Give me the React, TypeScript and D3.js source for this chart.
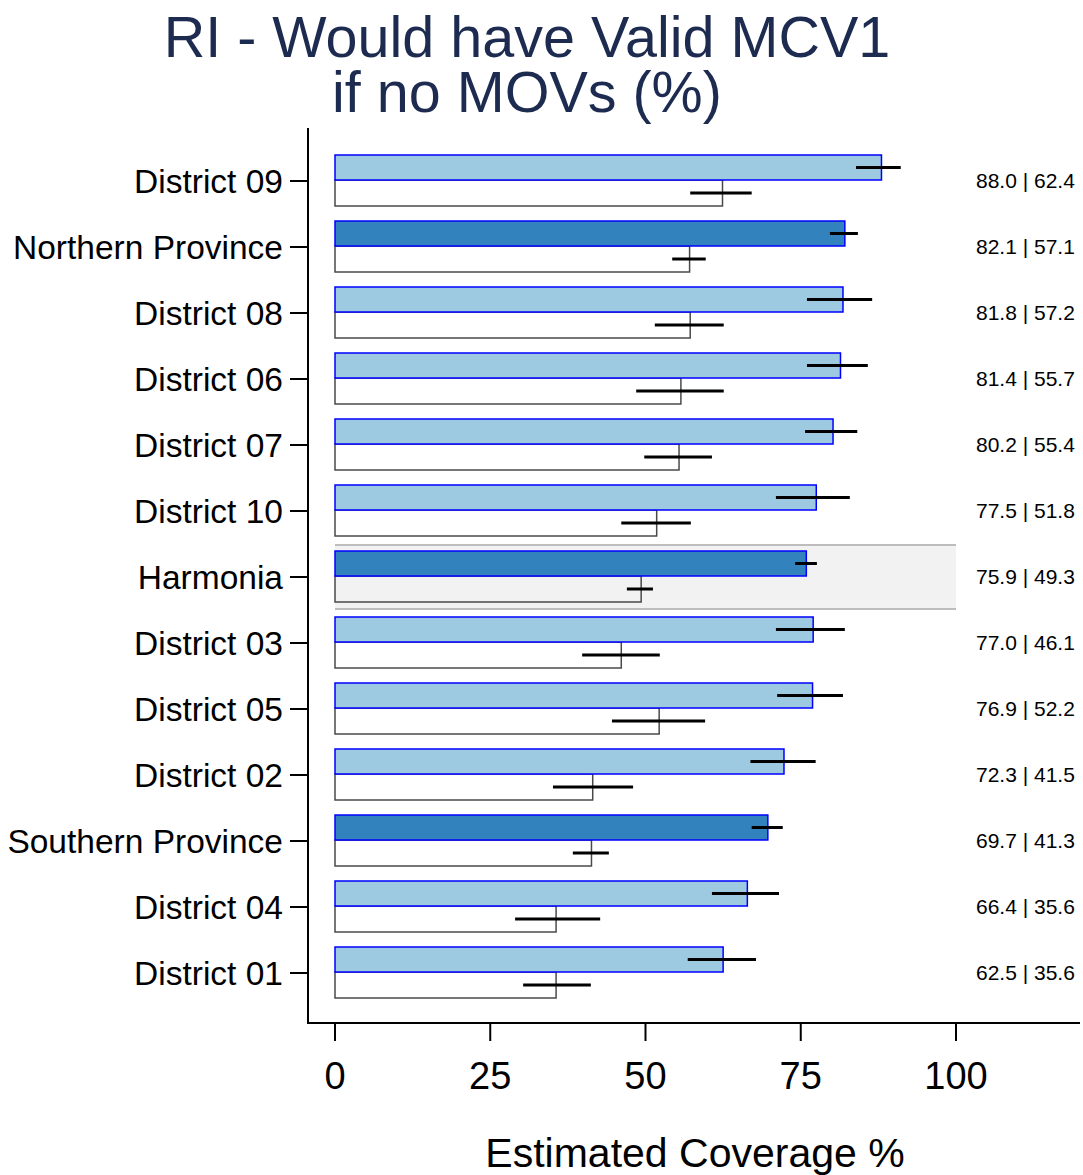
import React from "react";
import * as d3 from "d3";

const categories = ["District 09","Northern Province","District 08","District 06","District 07","District 10","Harmonia","District 03","District 05","District 02","Southern Province","District 04","District 01"];
const levels = ["district","province","district","district","district","district","national","district","district","district","province","district","district"];
const coverage = [88.0,82.1,81.8,81.4,80.2,77.5,75.9,77.0,76.9,72.3,69.7,66.4,62.5];
const covLo = [83.9,79.7,76.0,76.0,75.7,71.0,74.1,71.0,71.2,66.9,67.1,60.7,56.8];
const covHi = [91.1,84.2,86.5,85.8,84.1,82.9,77.6,82.1,81.8,77.4,72.1,71.5,67.8];
const actual = [62.4,57.1,57.2,55.7,55.4,51.8,49.3,46.1,52.2,41.5,41.3,35.6,35.6];
const actLo = [57.2,54.3,51.5,48.5,49.8,46.1,47.0,39.8,44.6,35.1,38.3,29.0,30.3];
const actHi = [67.1,59.7,62.6,62.6,60.7,57.3,51.2,52.3,59.6,48.0,44.1,42.7,41.2];
const xTicks = [0,25,50,75,100];
const titleLines = ["RI - Would have Valid MCV1","if no MOVs (%)"];
const xTitle = "Estimated Coverage %";

export default function App() {
  const W = 1083, H = 1175;
  const x = d3.scaleLinear().domain([0, 100]).range([335, 956]);
  const y = d3.scalePoint<string>().domain(categories).range([181, 973]);
  const font = "'Liberation Sans', Arial, sans-serif";
  const axisY = 1023, axisX = 308;
  return (
    <svg width={W} height={H} style={{ position: "absolute", left: 0, top: 0, background: "#fff" }} fontFamily={font}>
      <rect width={W} height={H} fill="#fff" />
      {titleLines.map((t, i) => (
        <text key={t} x={527} y={57 + i * 55} textAnchor="middle" fontSize={57.5} fill="#1c2b4f">{t}</text>
      ))}
      {categories.map((c, i) => {
        if (levels[i] !== "national") return null;
        const cy = y(c)!;
        return (
          <g key={"shade" + c}>
            <rect x={x(0)} y={cy - 32} width={x(100) - x(0)} height={64} fill="#f2f2f2" />
            <line x1={x(0)} x2={x(100)} y1={cy - 32} y2={cy - 32} stroke="#bdbdbd" strokeWidth={2} />
            <line x1={x(0)} x2={x(100)} y1={cy + 32} y2={cy + 32} stroke="#bdbdbd" strokeWidth={2} />
          </g>
        );
      })}
      {categories.map((c, i) => {
        const cy = y(c)!;
        const dark = levels[i] !== "district";
        return (
          <g key={c}>
            <rect x={x(0)} y={cy - 1} width={x(actual[i]) - x(0)} height={26}
              fill={levels[i] === "national" ? "#f2f2f2" : "#fff"} stroke="#4a4a4a" strokeWidth={1.5} />
            <rect x={x(0)} y={cy - 26} width={x(coverage[i]) - x(0)} height={25}
              fill={dark ? "#3182bd" : "#9ecae1"} stroke="#0000ff" strokeWidth={1.5} />
            <line x1={x(covLo[i])} x2={x(covHi[i])} y1={cy - 13.5} y2={cy - 13.5} stroke="#000" strokeWidth={3} />
            <line x1={x(actLo[i])} x2={x(actHi[i])} y1={cy + 12} y2={cy + 12} stroke="#000" strokeWidth={3} />
            <line x1={axisX - 18} x2={axisX} y1={cy} y2={cy} stroke="#000" strokeWidth={2} />
            <text x={283} y={cy} dy="0.35em" textAnchor="end" fontSize={33.5} fill="#000">{c}</text>
            <text x={976} y={cy} dy="0.35em" textAnchor="start" fontSize={21} fill="#000">
              {coverage[i].toFixed(1) + " | " + actual[i].toFixed(1)}
            </text>
          </g>
        );
      })}
      <line x1={axisX} x2={axisX} y1={128} y2={axisY + 1} stroke="#000" strokeWidth={2} />
      <line x1={axisX - 1} x2={1080} y1={axisY} y2={axisY} stroke="#000" strokeWidth={2} />
      {xTicks.map(t => (
        <g key={t}>
          <line x1={x(t)} x2={x(t)} y1={axisY} y2={axisY + 18} stroke="#000" strokeWidth={2} />
          <text x={x(t)} y={1089} textAnchor="middle" fontSize={38} fill="#000">{t}</text>
        </g>
      ))}
      <text x={695} y={1167} textAnchor="middle" fontSize={41} fill="#000">{xTitle}</text>
    </svg>
  );
}
